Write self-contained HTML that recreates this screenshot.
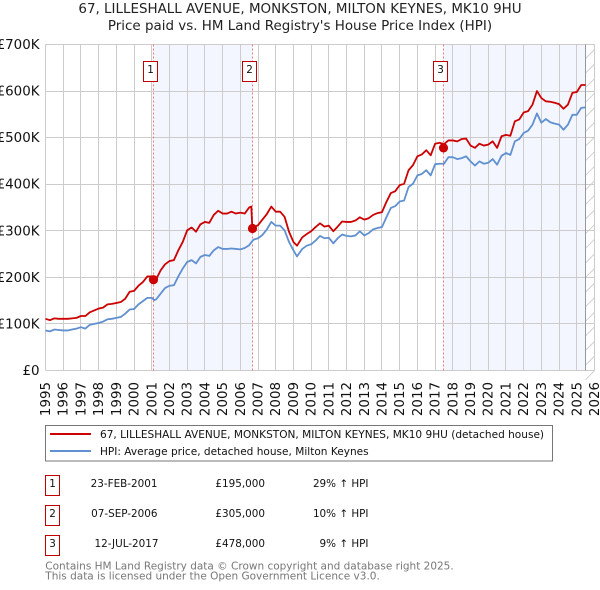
<!DOCTYPE html>
<html lang="en">
<head>
<meta charset="utf-8">
<title>67, Lilleshall Avenue price chart</title>
<style>
html,body{margin:0;padding:0;background:#fff;}
body{width:600px;height:590px;overflow:hidden;}
svg{display:block;font-family:"DejaVu Sans","Liberation Sans",sans-serif;}
</style>
</head>
<body>
<svg id="chart" xmlns="http://www.w3.org/2000/svg" width="600" height="590" viewBox="0 0 600 590">
  <text x="300" y="13" text-anchor="middle" font-size="13.45" fill="#222">67, LILLESHALL AVENUE, MONKSTON, MILTON KEYNES, MK10 9HU</text>
  <text x="300" y="30" text-anchor="middle" font-size="13.45" fill="#222">Price paid vs. HM Land Registry's House Price Index (HPI)</text>
  <g id="plot"></g>

  <g>
    <rect x="45.5" y="425.5" width="507" height="35.5" fill="#fff" stroke="#777" stroke-width="1"/>
    <line x1="50" x2="91" y1="434" y2="434" stroke="#cc0000" stroke-width="2"/>
    <text x="100" y="438" font-size="10.55" fill="#111">67, LILLESHALL AVENUE, MONKSTON, MILTON KEYNES, MK10 9HU (detached house)</text>
    <line x1="50" x2="91" y1="451" y2="451" stroke="#6090d0" stroke-width="2"/>
    <text x="100" y="455" font-size="10.55" fill="#111">HPI: Average price, detached house, Milton Keynes</text>
  </g>

  <g font-size="10.4" fill="#111">
    <rect x="45.5" y="475.5" width="14" height="20" fill="#fff" stroke="#c00000"/>
    <text x="52.5" y="487" text-anchor="middle">1</text>
    <text x="157.5" y="487" text-anchor="end">23-FEB-2001</text>
    <text x="265" y="487" text-anchor="end">£195,000</text>
    <text x="368.5" y="487" text-anchor="end">29% ↑ HPI</text>

    <rect x="45.5" y="505.5" width="14" height="20" fill="#fff" stroke="#c00000"/>
    <text x="52.5" y="517" text-anchor="middle">2</text>
    <text x="157.5" y="517" text-anchor="end">07-SEP-2006</text>
    <text x="265" y="517" text-anchor="end">£305,000</text>
    <text x="368.5" y="517" text-anchor="end">10% ↑ HPI</text>

    <rect x="45.5" y="535.5" width="14" height="20" fill="#fff" stroke="#c00000"/>
    <text x="52.5" y="547" text-anchor="middle">3</text>
    <text x="158.5" y="547" text-anchor="end">12-JUL-2017</text>
    <text x="265" y="547" text-anchor="end">£478,000</text>
    <text x="368.5" y="547" text-anchor="end">9% ↑ HPI</text>
  </g>

  <text x="45.3" y="569.3" font-size="10.5" fill="#777">Contains HM Land Registry data © Crown copyright and database right 2025.</text>
  <text x="45.3" y="579.3" font-size="10.5" fill="#777">This data is licensed under the Open Government Licence v3.0.</text>
</svg>

<script>
// Chart data (values in £ thousands)
const dates = [
  1995,1995.25,1995.5,1995.75,1996,1996.25,1996.5,1996.75,1997,1997.25,1997.5,1997.75,
  1998,1998.25,1998.5,1998.75,1999,1999.25,1999.5,1999.75,2000,2000.25,2000.5,2000.75,
  2001,2001.15,2001.25,2001.5,2001.75,2002,2002.25,2002.5,2002.75,2003,2003.25,2003.5,2003.75,
  2004,2004.25,2004.5,2004.75,2005,2005.25,2005.5,2005.75,2006,2006.25,2006.5,2006.62,2006.68,2006.75,
  2007,2007.25,2007.5,2007.75,2008,2008.25,2008.5,2008.75,2009,2009.2,2009.5,2009.75,
  2010,2010.25,2010.5,2010.75,2011,2011.25,2011.5,2011.75,2012,2012.25,2012.5,2012.75,
  2013,2013.25,2013.5,2013.75,2014,2014.25,2014.5,2014.75,2015,2015.25,2015.5,2015.75,
  2016,2016.25,2016.5,2016.75,2017,2017.25,2017.5,2017.75,2018,2018.25,2018.5,2018.75,
  2019,2019.25,2019.5,2019.75,2020,2020.25,2020.5,2020.75,2021,2021.25,2021.5,2021.75,
  2022,2022.25,2022.5,2022.75,2023,2023.25,2023.5,2023.75,2024,2024.25,2024.5,2024.75,
  2025,2025.25,2025.5
];
const pricePaid = [
  111,108,112,111,111,111,112,113,117,117,125,129,
  133,135,142,143,145,147,154,169,171,182,190,202,
  202,195,196,215,228,235,237,258,276,301,307,298,314,
  319,317,334,343,337,337,341,337,339,337,350,352,305,307,
  312,324,336,352,341,341,330,298,276,268,286,293,
  299,308,316,309,311,299,309,320,319,319,322,329,
  324,327,334,338,340,362,381,385,398,401,430,441,
  460,464,473,462,487,489,486,494,494,492,497,498,
  483,478,487,483,485,492,478,503,506,504,535,539,
  554,557,571,600,585,578,577,575,572,562,571,596,
  598,613,613
];
const hpiIndex = [
  86,84,88,87,86,86,88,90,93,90,98,100,
  102,105,110,111,113,115,122,131,132,142,149,156,
  156,151,153,165,177,182,183,202,219,233,237,230,244,
  248,246,258,265,261,261,262,261,260,263,269,275,278,281,
  284,291,303,319,311,311,301,276,258,245,261,268,
  271,279,289,284,285,273,284,292,289,288,290,299,
  290,295,303,306,308,329,349,353,363,365,394,401,
  419,422,430,419,443,444,444,458,458,454,456,460,
  449,440,449,444,446,454,442,461,467,463,492,497,
  510,515,528,552,532,540,533,530,528,517,528,549,
  549,564,565
];
const yTickValues = [0,100,200,300,400,500,600,700];
const yTickLabels = ["£0","£100K","£200K","£300K","£400K","£500K","£600K","£700K"];
const xTickYears = [1995,1996,1997,1998,1999,2000,2001,2002,2003,2004,2005,2006,2007,2008,2009,2010,2011,2012,2013,2014,2015,2016,2017,2018,2019,2020,2021,2022,2023,2024,2025,2026];
const saleYears = [2001.09,2006.67,2017.48];
const salePrices = [195,305,478];
const saleBadges = ["1","2","3"];
const dataEndYear = 2025.5;

const NS = "http://www.w3.org/2000/svg";
const plot = document.getElementById("plot");
const LEFT = 45.5, RIGHT = 594.5, TOP = 44.5, BOTTOM = 370.5;
function xScale(year){ return LEFT + (year - 1995) * (RIGHT - LEFT) / 31; }
function yScale(v){ return BOTTOM - v * (BOTTOM - TOP) / 700; }
function snap(p){ return Math.floor(p) + 0.5; }
function mk(tag, attrs, parent){
  const el = document.createElementNS(NS, tag);
  for (const k in attrs) el.setAttribute(k, attrs[k]);
  (parent || plot).appendChild(el);
  return el;
}

// shaded sale periods
const band1 = mk("rect",{x:snap(xScale(saleYears[0])),y:TOP,width:snap(xScale(saleYears[1]))-snap(xScale(saleYears[0])),height:BOTTOM-TOP,fill:"#f3f6fe"});


const band2 = mk("rect",{x:snap(xScale(saleYears[2])),y:TOP,width:snap(xScale(dataEndYear))-snap(xScale(saleYears[2])),height:BOTTOM-TOP,fill:"#f3f6fe"});



// hatching after last data date
const hatch = mk("g",{stroke:"#d0d0d0","stroke-width":"1"});


const hx0 = snap(xScale(dataEndYear));
for (let yy = TOP + 14; yy < BOTTOM + 14; yy += 14.6) {
  mk("line",{x1:hx0,y1:yy,x2:RIGHT,y2:yy-(RIGHT-hx0)},hatch);
}

// gridlines
xTickYears.forEach(function(yr){
  const g = mk("line",{x1:snap(xScale(yr)),x2:snap(xScale(yr)),y1:TOP,y2:BOTTOM,stroke:"#cccccc","stroke-width":"1"});
  
  
});
yTickValues.forEach(function(v){
  const g = mk("line",{x1:LEFT,x2:RIGHT,y1:snap(yScale(v)),y2:snap(yScale(v)),stroke:"#cccccc","stroke-width":"1"});
  
  
});

// data end line
const endLine = mk("line",{x1:hx0,x2:hx0,y1:TOP,y2:BOTTOM,stroke:"#999999","stroke-width":"1"});



// tick labels
yTickValues.forEach(function(v,i){
  const t = mk("text",{x:39.5,y:yScale(v)+4.5,"text-anchor":"end","font-size":"13.4",fill:"#111"});
  t.textContent = yTickLabels[i];
  
  
});
xTickYears.forEach(function(yr){
  const px = xScale(yr) + 4.5;
  const t = mk("text",{x:px,y:382,"text-anchor":"end","font-size":"13.4",fill:"#111",transform:"rotate(-90 "+px+" 382)"});
  t.textContent = String(yr);
  
  
});

// sale date lines
saleYears.forEach(function(yr){
  const px = snap(xScale(yr));
  const l = mk("line",{x1:px,x2:px,y1:TOP,y2:BOTTOM,stroke:"#f07878","stroke-width":"1","stroke-dasharray":"2 2"});
  
  
});

// series
function linePath(values){
  return values.map(function(v,i){ return (i?"L":"M")+xScale(dates[i]).toFixed(2)+" "+yScale(v).toFixed(2); }).join("");
}
const hpiLine = mk("path",{d:linePath(hpiIndex),fill:"none",stroke:"#6090d0","stroke-width":"1.8","stroke-linejoin":"round"});


const priceLine = mk("path",{d:linePath(pricePaid),fill:"none",stroke:"#cc0000","stroke-width":"1.8","stroke-linejoin":"round"});



// sale markers and numbered badges
saleYears.forEach(function(yr,i){
  const px = snap(xScale(yr));
  const dot = mk("circle",{cx:px,cy:yScale(salePrices[i]),r:4.6,fill:"#cc0000"});
  
  
  const box = mk("rect",{x:px-10,y:61.5,width:14,height:20,fill:"#fff",stroke:"#c00000","stroke-width":"1"});
  
  
  const lab = mk("text",{x:px-3,y:73,"text-anchor":"middle","font-size":"10.4",fill:"#111"});
  lab.textContent = saleBadges[i];
  
  
});
</script>
</body>
</html>
